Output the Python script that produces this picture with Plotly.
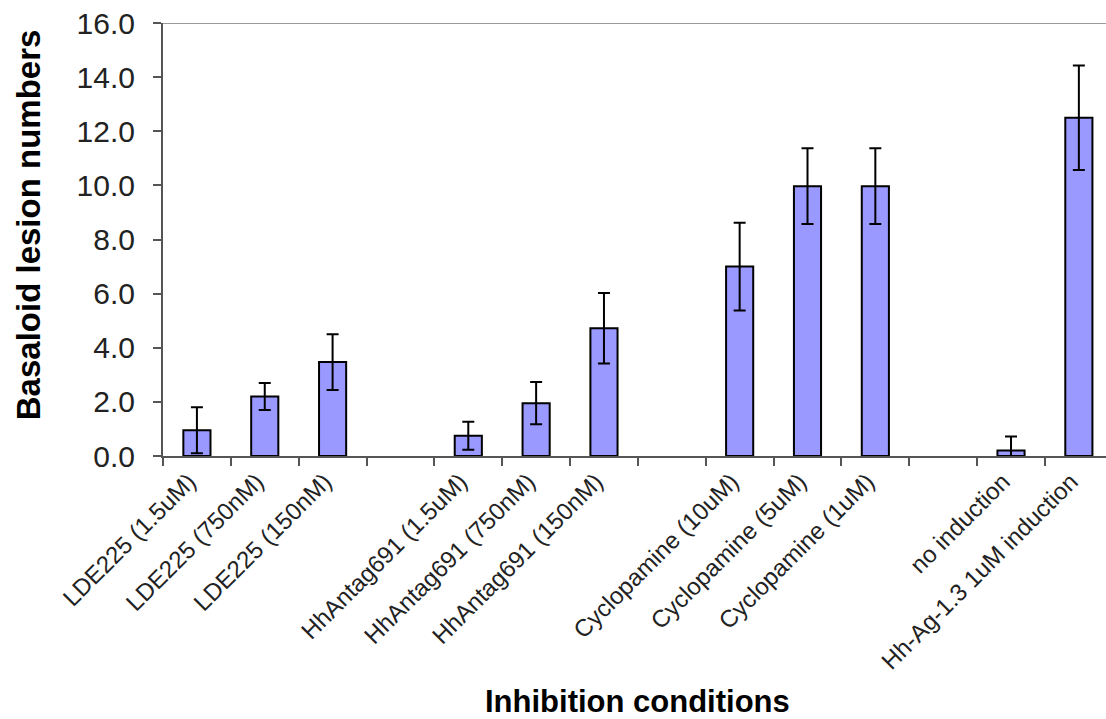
import plotly.graph_objects as go

categories = ["LDE225 (1.5uM)", "LDE225 (750nM)", "LDE225 (150nM)", " ",
              "HhAntag691 (1.5uM)", "HhAntag691 (750nM)", "HhAntag691 (150nM)", "  ",
              "Cyclopamine (10uM)", "Cyclopamine (5uM)", "Cyclopamine (1uM)", "   ",
              "no induction", "Hh-Ag-1.3 1uM induction"]
values = [0.95, 2.2, 3.47, None, 0.75, 1.95, 4.72, None, 7.0, 9.97, 9.97, None, 0.2, 12.5]
errors = [0.85, 0.5, 1.03, None, 0.52, 0.78, 1.3, None, 1.62, 1.4, 1.4, None, 0.52, 1.93]

FONT = "Liberation Sans, Arial, sans-serif"

fig = go.Figure()
fig.add_trace(go.Bar(
    x=categories, y=values, width=0.4,
    marker=dict(color="#9999FF", line=dict(color="#000000", width=2)),
    error_y=dict(type="data", array=errors, visible=True,
                 color="#000000", thickness=2, width=6),
    showlegend=False,
))

fig.update_layout(
    width=1106, height=719,
    margin=dict(l=163, r=0, t=23, b=263, autoexpand=False),
    paper_bgcolor="white", plot_bgcolor="white",
    bargap=0.6,
    font=dict(family=FONT, color="#222222"),
    xaxis=dict(
        type="category", categoryorder="array", categoryarray=categories,
        range=[-0.5, 13.4], tickson="boundaries", automargin=False,
        ticks="outside", ticklen=8, tickwidth=2, tickcolor="#555555",
        showline=True, linecolor="#555555", linewidth=2,
        tickangle=-45, tickfont=dict(size=24, family=FONT, color="#222222"),
        ticklabelshift=-8,
        showgrid=False, zeroline=False,
    ),
    yaxis=dict(
        range=[0, 16], dtick=2, tickformat=".1f", automargin=False,
        ticks="outside", ticklen=8, tickwidth=2, tickcolor="#555555",
        showline=True, linecolor="#555555", linewidth=2,
        tickfont=dict(size=30, family=FONT, color="#222222"),
        ticklabelstandoff=12,
        showgrid=False, zeroline=False,
    ),
    shapes=[dict(type="line", xref="paper", yref="y", x0=0, x1=1, y0=16, y1=16,
                 line=dict(color="#999999", width=2))],
    annotations=[
        dict(text="<b>Basaloid lesion numbers</b>", xref="paper", yref="paper",
             x=(28 - 163) / 943, y=0.533, textangle=-90, showarrow=False,
             xanchor="center", yanchor="middle",
             font=dict(size=33, family=FONT, color="#000000")),
        dict(text="<b>Inhibition conditions</b>", xref="paper", yref="paper",
             x=0.5027, y=(456 - 701) / 433, showarrow=False,
             xanchor="center", yanchor="middle",
             font=dict(size=31, family=FONT, color="#000000")),
    ],
)

fig.write_html("out.html", config={"displayModeBar": False},
               post_script="document.body.style.margin='0';document.body.style.padding='0';")
